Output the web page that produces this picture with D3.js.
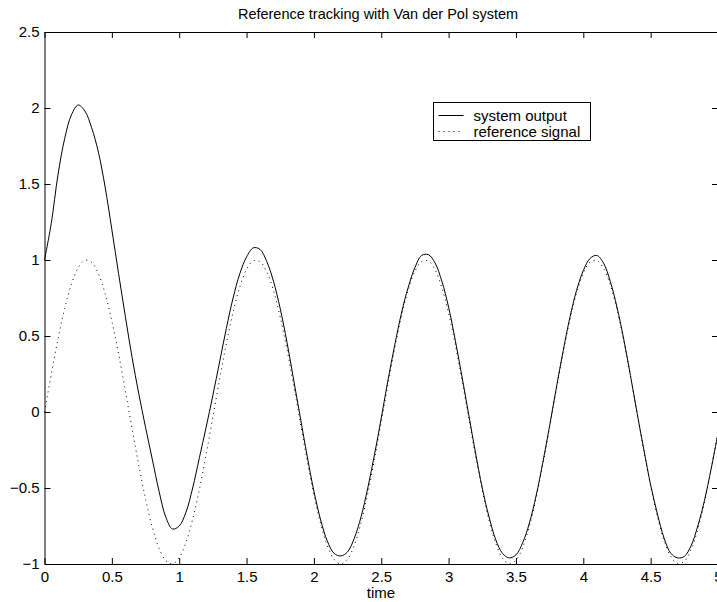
<!DOCTYPE html>
<html>
<head>
<meta charset="utf-8">
<script src="https://cdn.jsdelivr.net/npm/d3@7"></script>
<style>
  body { margin: 0; background: #fff; }
  svg { display: block; font-family: "Liberation Sans", Arial, Helvetica, sans-serif; }
</style>
</head>
<body>
<div id="chart"></div>
<script>
// sample times (s)
const time = [
  0, 0.05, 0.1, 0.15, 0.2, 0.25, 0.3, 0.35, 0.4, 0.45,
  0.5, 0.55, 0.6, 0.65, 0.7, 0.75, 0.8, 0.85, 0.9, 0.95,
  1, 1.05, 1.1, 1.15, 1.2, 1.25, 1.3, 1.35, 1.4, 1.45,
  1.5, 1.55, 1.6, 1.65, 1.7, 1.75, 1.8, 1.85, 1.9, 1.95,
  2, 2.05, 2.1, 2.15, 2.2, 2.25, 2.3, 2.35, 2.4, 2.45,
  2.5, 2.55, 2.6, 2.65, 2.7, 2.75, 2.8, 2.85, 2.9, 2.95,
  3, 3.05, 3.1, 3.15, 3.2, 3.25, 3.3, 3.35, 3.4, 3.45,
  3.5, 3.55, 3.6, 3.65, 3.7, 3.75, 3.8, 3.85, 3.9, 3.95,
  4, 4.05, 4.1, 4.15, 4.2, 4.25, 4.3, 4.35, 4.4, 4.45,
  4.5, 4.55, 4.6, 4.65, 4.7, 4.75, 4.8, 4.85, 4.9, 4.95,
  5
];

const systemOutput = [
  1.0, 1.24, 1.56, 1.80, 1.955, 2.02, 1.98, 1.87, 1.71, 1.48,
  1.20, 0.91, 0.63, 0.36, 0.12, -0.10, -0.31, -0.52, -0.69, -0.77,
  -0.75, -0.66, -0.50, -0.30, -0.10, 0.11, 0.33, 0.55, 0.75, 0.91,
  1.02, 1.08, 1.07, 0.99, 0.86, 0.68, 0.46, 0.21, -0.04, -0.29,
  -0.52, -0.71, -0.85, -0.93, -0.947, -0.92, -0.83, -0.69, -0.50, -0.28,
  -0.04, 0.21, 0.44, 0.65, 0.82, 0.95, 1.03, 1.035, 0.98, 0.86,
  0.69, 0.47, 0.23, -0.02, -0.27, -0.50, -0.69, -0.84, -0.93, -0.96,
  -0.94, -0.86, -0.73, -0.55, -0.33, -0.09, 0.16, 0.40, 0.62, 0.80,
  0.93, 1.01, 1.03, 0.98, 0.86, 0.69, 0.48, 0.24, -0.01, -0.25,
  -0.48, -0.67, -0.83, -0.93, -0.96, -0.95, -0.88, -0.75, -0.58, -0.37,
  -0.14
];

const referenceSignal = [
  0, 0.2474, 0.4794, 0.6816, 0.8415, 0.9490, 0.9975, 0.9840, 0.9093, 0.7781,
  0.5985, 0.3817, 0.1411, -0.1082, -0.3508, -0.5716, -0.7568, -0.8950, -0.9775, -0.9993,
  -0.9589, -0.8589, -0.7055, -0.5083, -0.2794, -0.0332, 0.2151, 0.4500, 0.6570, 0.8231,
  0.9380, 0.9946, 0.9894, 0.9226, 0.7985, 0.6247, 0.4121, 0.1743, -0.0752, -0.3195,
  -0.5440, -0.7346, -0.8797, -0.9700, -1.0, -0.9678, -0.8755, -0.7287, -0.5366, -0.3111,
  -0.0663, 0.1826, 0.4202, 0.6318, 0.8038, 0.9260, 0.9906, 0.9937, 0.9349, 0.8180,
  0.6503, 0.4422, 0.2065, -0.0420, -0.2879, -0.5157, -0.7118, -0.8632, -0.9614, -0.9996,
  -0.9756, -0.8910, -0.7510, -0.5646, -0.3425, -0.0994, 0.1499, 0.3898, 0.6055, 0.7836,
  0.9129, 0.9855, 0.9968, 0.9462, 0.8367, 0.6755, 0.4716, 0.2385, -0.0088, -0.2559,
  -0.4872, -0.6878, -0.8462, -0.9515, -0.9981, -0.9824, -0.9056, -0.7726, -0.5918, -0.3735,
  -0.1324
];

const xTicks = [0, 0.5, 1, 1.5, 2, 2.5, 3, 3.5, 4, 4.5, 5];
const yTicks = [-1, -0.5, 0, 0.5, 1, 1.5, 2, 2.5];
const legendLabels = ["system output", "reference signal"];

const W = 717, H = 602;
const mLeft = 44.5, mRight = 718, mTop = 32, mBottom = 564;

const svg = d3.select("#chart").append("svg")
  .attr("width", W)
  .attr("height", H);

const x = d3.scaleLinear().domain([0, 5]).range([mLeft, mRight]);
const y = d3.scaleLinear().domain([-1, 2.5]).range([mBottom, mTop]);

const fmt = d => d3.format("")(d).replace("-", "\u2212");

// axes with inward ticks (matlab style)
svg.append("g")
  .attr("transform", `translate(0,${mBottom})`)
  .call(d3.axisBottom(x).tickValues(xTicks).tickSize(-6).tickSizeOuter(0).tickPadding(7).tickFormat(fmt));

svg.append("g")
  .attr("transform", `translate(${mLeft},0)`)
  .call(d3.axisLeft(y).tickValues(yTicks).tickSize(-6).tickSizeOuter(0).tickPadding(5).tickFormat(fmt));

svg.append("g")
  .attr("transform", `translate(0,${mTop})`)
  .call(d3.axisTop(x).tickValues(xTicks).tickSize(-6).tickSizeOuter(0).tickFormat(""));

svg.append("g")
  .attr("transform", `translate(${mRight},0)`)
  .call(d3.axisRight(y).tickValues(yTicks).tickSize(-6).tickSizeOuter(0).tickFormat(""));

svg.selectAll(".tick text")
  .attr("font-size", 15)
  .attr("font-family", "Liberation Sans, Arial, sans-serif")
  .attr("fill", "#000");
svg.selectAll(".domain, .tick line").attr("stroke", "#000");

const line = d3.line()
  .x((d, i) => x(time[i]))
  .y(d => y(d))
  .curve(d3.curveCatmullRom);

const plot = svg.append("g");

plot.append("path")
  .datum(referenceSignal)
  .attr("d", line)
  .attr("fill", "none")
  .attr("stroke", "#000")
  .attr("stroke-width", 1)
  .attr("stroke-dasharray", "1,4");

plot.append("path")
  .datum(systemOutput)
  .attr("d", line)
  .attr("fill", "none")
  .attr("stroke", "#000")
  .attr("stroke-width", 1);

// title + x label
svg.append("text")
  .attr("x", 378)
  .attr("y", 19)
  .attr("text-anchor", "middle")
  .attr("font-size", 14.5)
  .text("Reference tracking with Van der Pol system");

svg.append("text")
  .attr("x", 381)
  .attr("y", 598)
  .attr("text-anchor", "middle")
  .attr("font-size", 15)
  .text("time");

// legend
const lg = svg.append("g").attr("transform", "translate(433.5,102.5)");
lg.append("rect")
  .attr("width", 157)
  .attr("height", 38)
  .attr("fill", "#fff")
  .attr("stroke", "#000");

const styles = [null, "1,4"];
legendLabels.forEach((lab, i) => {
  const yy = 13 + i * 16;
  lg.append("line")
    .attr("x1", 5).attr("x2", 30)
    .attr("y1", yy).attr("y2", yy)
    .attr("stroke", "#000")
    .attr("stroke-dasharray", styles[i]);
  lg.append("text")
    .attr("x", 40)
    .attr("y", yy + 5)
    .attr("font-size", 15)
    .text(lab);
});
</script>
</body>
</html>
